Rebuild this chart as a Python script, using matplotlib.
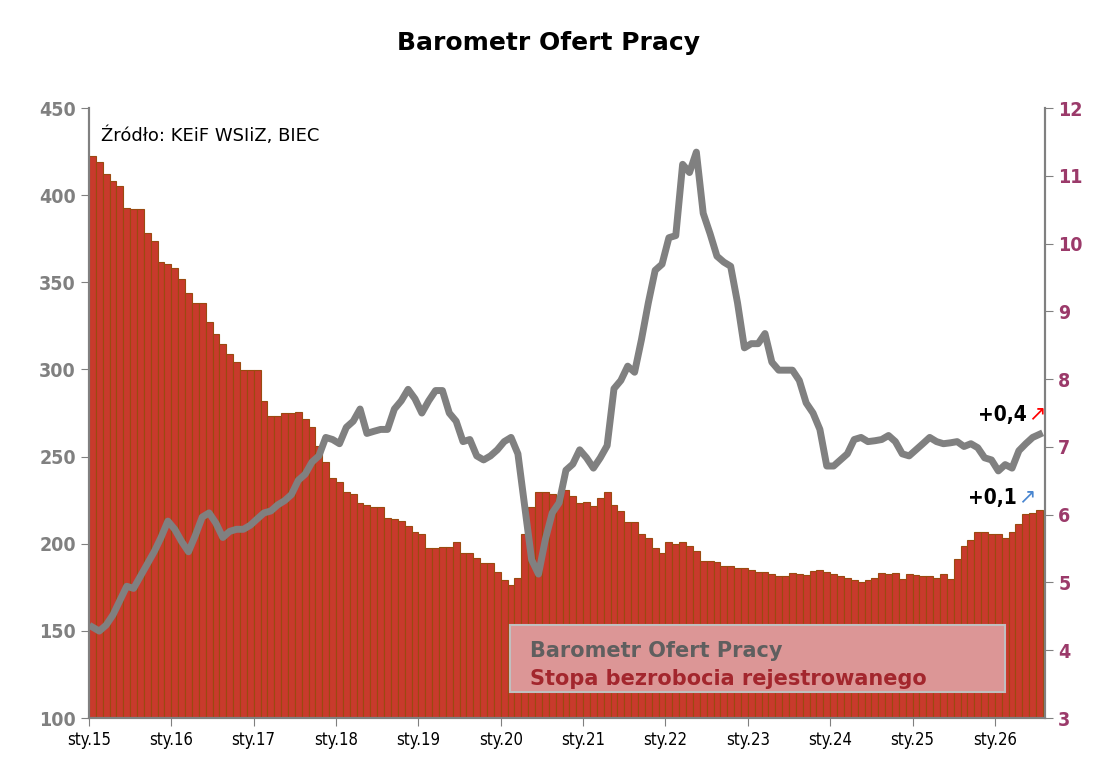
import matplotlib.pyplot as plt
from matplotlib.patches import Rectangle
import numpy as np

# Stopa bezrobocia rejestrowanego (%), monthly from Jan 2015
unemployment = [
    11.29, 11.20, 11.02, 10.93, 10.85, 10.52, 10.51, 10.51, 10.16, 10.04, 9.73, 9.70,
    9.64, 9.48, 9.27, 9.12, 9.12, 8.85, 8.67, 8.52, 8.37, 8.25, 8.13, 8.13,
    8.13, 7.68, 7.45, 7.45, 7.50, 7.50, 7.51, 7.41, 7.29, 7.02, 6.78, 6.54,
    6.48, 6.33, 6.30, 6.18, 6.15, 6.12, 6.12, 5.95, 5.93, 5.90, 5.84, 5.75,
    5.72, 5.51, 5.51, 5.53, 5.53, 5.60, 5.44, 5.44, 5.36, 5.29, 5.29, 5.16,
    5.03, 4.97, 5.06, 5.72, 6.12, 6.34, 6.34, 6.30, 6.27, 6.36, 6.27, 6.18,
    6.19, 6.13, 6.24, 6.33, 6.15, 6.06, 5.89, 5.89, 5.72, 5.65, 5.51, 5.44,
    5.60, 5.57, 5.59, 5.54, 5.47, 5.32, 5.32, 5.30, 5.24, 5.24, 5.22, 5.21,
    5.18, 5.16, 5.16, 5.12, 5.10, 5.10, 5.14, 5.12, 5.11, 5.17, 5.18, 5.15,
    5.13, 5.10, 5.06, 5.03, 5.01, 5.04, 5.06, 5.14, 5.13, 5.14, 5.05, 5.12,
    5.11, 5.10, 5.09, 5.07, 5.12, 5.05, 5.35, 5.54, 5.63, 5.75, 5.75, 5.72,
    5.71, 5.66, 5.74, 5.86, 6.01, 6.03, 6.07,
]

# Barometr Ofert Pracy, monthly from Jan 2015
barometr = [
    152.2, 149.9, 153.3, 159.2, 167.4, 175.6, 174.4, 181.4, 188.4, 195.4, 203.6, 213.0,
    208.3, 201.3, 195.4, 204.8, 215.3, 217.7, 211.8, 203.6, 207.1, 208.3, 208.3, 210.6,
    214.2, 217.7, 218.8, 222.3, 224.7, 228.2, 236.4, 239.9, 246.9, 250.4, 261.0, 259.8,
    257.4, 266.8, 270.3, 277.3, 263.3, 264.5, 265.6, 265.6, 277.3, 282.0, 288.6, 283.2,
    275.0, 282.0, 287.9, 287.9, 275.0, 270.3, 258.6, 259.8, 250.4, 248.1, 250.4, 253.9,
    258.6, 261.0, 251.6, 221.2, 190.8, 182.6, 202.5, 217.7, 223.5, 242.2, 245.7, 253.9,
    249.3, 243.4, 249.3, 256.3, 289.0, 293.7, 301.9, 298.4, 317.1, 338.2, 356.9, 360.4,
    375.6, 376.8, 417.7, 413.0, 424.7, 389.6, 377.9, 365.0, 361.6, 359.2, 338.2, 312.4,
    314.8, 314.8, 320.6, 304.2, 299.6, 299.6, 299.6, 293.7, 280.8, 275.0, 265.6, 244.6,
    244.6, 248.1, 251.6, 259.8, 261.0, 258.6, 259.1, 259.8, 262.1, 258.6, 251.6, 250.4,
    253.9, 257.4, 261.0, 258.6, 257.4, 257.9, 258.6, 255.8, 257.4, 255.1, 249.3, 248.1,
    241.8, 245.4, 243.4, 253.4, 257.4, 261.0, 262.8,
]

year_labels = ["sty.15", "sty.16", "sty.17", "sty.18", "sty.19", "sty.20",
               "sty.21", "sty.22", "sty.23", "sty.24", "sty.25", "sty.26"]

n = min(len(unemployment), len(barometr))
x = np.arange(n) + 0.5

cond = dict(family="DejaVu Sans", stretch="condensed")

fig = plt.figure(figsize=(10.97, 7.75), dpi=100)
ax = fig.add_axes([0.0811, 0.0735, 0.8715, 0.7871])
ax.bar(x, unemployment[:n], width=1.0, color="#c83a2c", edgecolor="#9a4a10", linewidth=0.8)
ax.set_ylim(3, 12)
ax.set_xlim(0, n + 0.3)

ax2 = ax.twinx()
ax2.plot(x, barometr[:n], color="#808080", linewidth=5, solid_joinstyle="round")
ax2.set_ylim(100, 450)

# bars -> right scale, line -> left scale
ax.yaxis.tick_right()
ax.yaxis.set_label_position("right")
ax2.yaxis.tick_left()
ax2.yaxis.set_label_position("left")

ax.set_yticks(range(3, 13))
ax.set_yticklabels([str(v) for v in range(3, 13)], fontsize=14, fontweight="bold",
                   color="#9b3a6a", **cond)
ax2.set_yticks(range(100, 451, 50))
ax2.set_yticklabels([str(v) for v in range(100, 451, 50)], fontsize=14, fontweight="bold",
                    color="#808080", **cond)

ax.set_xticks(range(0, n, 12))
ax.set_xticklabels(year_labels, fontsize=12, **cond)
ax.tick_params(axis="x", direction="out", length=6, color="#808080")
ax.tick_params(axis="y", length=6, color="#808080")
ax2.tick_params(axis="y", length=6, color="#808080")
for a in (ax, ax2):
    a.spines["top"].set_visible(False)
    for s in ("left", "right", "bottom"):
        a.spines[s].set_color("#808080")
        a.spines[s].set_linewidth(1.5)

fig.text(0.5, 0.944, "Barometr Ofert Pracy", ha="center", va="center", fontsize=18, fontweight="bold")
ax.text(0.013, 0.97, "Źródło: KEiF WSIiZ, BIEC", transform=ax.transAxes, fontsize=13, va="top")

# legend box
box = Rectangle((510 / 1097, 1 - 692 / 775), 495 / 1097, 67 / 775, transform=fig.transFigure,
                facecolor="#dc9696", edgecolor="#c0c0c0", linewidth=1.5, zorder=5)
fig.patches.append(box)
fig.text(530 / 1097, 1 - 651 / 775, "Barometr Ofert Pracy", fontsize=15, fontweight="bold",
         color="#5f5f5f", va="center", zorder=6)
fig.text(530 / 1097, 1 - 679 / 775, "Stopa bezrobocia rejestrowanego", fontsize=15,
         fontweight="bold", color="#a3262d", va="center", zorder=6)

# change annotations
fig.text(1027 / 1097, 1 - 415 / 775, "+0,4", fontsize=15, fontweight="bold",
         ha="right", va="center", **cond)
fig.text(1028 / 1097, 1 - 413 / 775, "↗", fontsize=15, color="red", va="center")
fig.text(1017 / 1097, 1 - 498 / 775, "+0,1", fontsize=15, fontweight="bold",
         ha="right", va="center", **cond)
fig.text(1018 / 1097, 1 - 496 / 775, "↗", fontsize=15, color="#4a86d0", va="center")

fig.savefig("out.png", dpi=100)
